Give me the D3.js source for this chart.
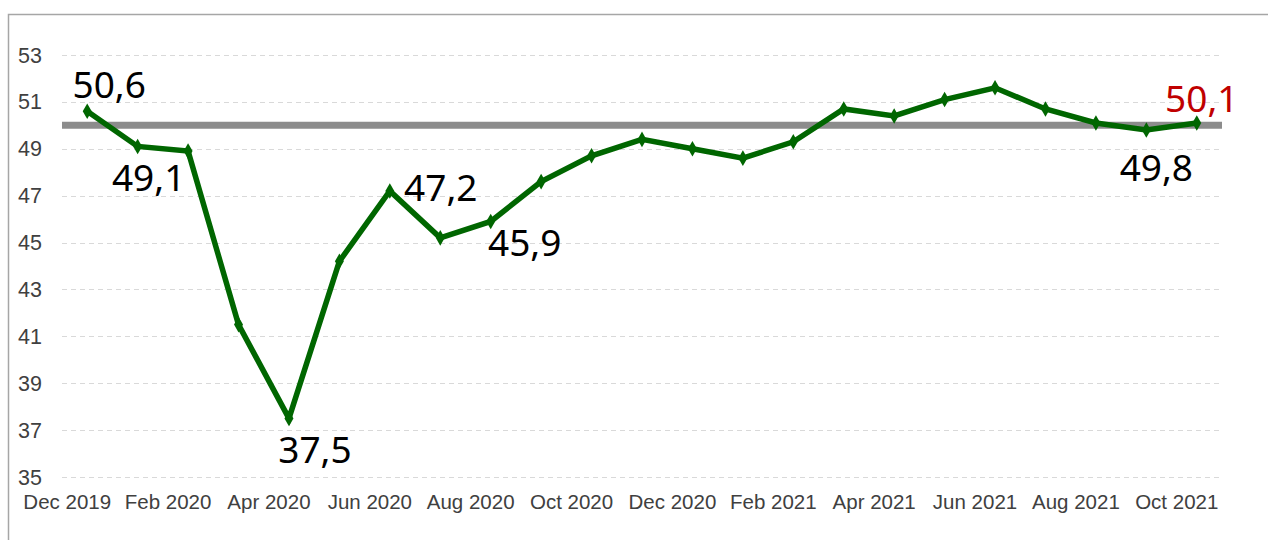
<!DOCTYPE html>
<html>
<head>
<meta charset="utf-8">
<script src="https://cdn.jsdelivr.net/npm/d3@7"></script>
<style>
  body { margin: 0; background: #fff; }
  svg { display: block; }
</style>
</head>
<body>
<svg></svg>
<script>
let width = 1268;
let height = 540;

// monthly values, Dec 2019 .. Oct 2021
let months = ['Dec 2019','Jan 2020','Feb 2020','Mar 2020','Apr 2020','May 2020','Jun 2020',
  'Jul 2020','Aug 2020','Sep 2020','Oct 2020','Nov 2020','Dec 2020','Jan 2021','Feb 2021',
  'Mar 2021','Apr 2021','May 2021','Jun 2021','Jul 2021','Aug 2021','Sep 2021','Oct 2021'];
let values = [50.6, 49.1, 48.9, 41.5, 37.5, 44.2, 47.2, 45.2, 45.9, 47.6, 48.7, 49.4,
  49.0, 48.6, 49.3, 50.7, 50.4, 51.1, 51.6, 50.7, 50.1, 49.8, 50.1];
let yTicks = [35, 37, 39, 41, 43, 45, 47, 49, 51, 53];
let xTickLabels = ['Dec 2019','Feb 2020','Apr 2020','Jun 2020','Aug 2020','Oct 2020',
  'Dec 2020','Feb 2021','Apr 2021','Jun 2021','Aug 2021','Oct 2021'];
let threshold = 50;
let labelled = ['Dec 2019','Jan 2020','Apr 2020','Jun 2020','Aug 2020','Sep 2021','Oct 2021'];

let data = months.map((m, i) => ({month: m, value: values[i]}));

let x = d3.scaleBand()
  .domain(months)
  .range([62, 1222]);

let y = d3.scaleLinear()
  .domain([35, 53])
  .range([477, 55]);

let cx = m => x(m) + x.bandwidth() / 2;

let svg = d3.select('svg')
  .attr('width', width)
  .attr('height', height);

// outer frame (only top and left edges visible)
svg.append('rect')
  .attr('x', 8.5).attr('y', 14.5)
  .attr('width', 1300).attr('height', 600)
  .attr('fill', 'none')
  .attr('stroke', '#a6a6a6')
  .attr('stroke-width', 1.5);

// gridlines
svg.append('g')
  .selectAll('line')
  .data(yTicks)
  .enter()
  .append('line')
    .attr('x1', 62).attr('x2', 1222)
    .attr('y1', d => Math.round(y(d)) + 0.5)
    .attr('y2', d => Math.round(y(d)) + 0.5)
    .attr('stroke', '#d9d9d9')
    .attr('stroke-width', 1)
    .attr('stroke-dasharray', '5,4');

// y labels
svg.append('g')
  .selectAll('text')
  .data(yTicks)
  .enter()
  .append('text')
    .attr('x', 42)
    .attr('y', d => y(d) + 7.5)
    .attr('text-anchor', 'end')
    .attr('font-family', 'Liberation Sans, Arial, sans-serif')
    .attr('font-size', 21.5)
    .attr('fill', '#404040')
    .text(d => d);

// x labels (Excel shifts them a bit left of the points)
svg.append('g')
  .selectAll('text')
  .data(xTickLabels)
  .enter()
  .append('text')
    .attr('x', d => cx(d) - 20)
    .attr('y', 509)
    .attr('text-anchor', 'middle')
    .attr('font-family', 'Liberation Sans, Arial, sans-serif')
    .attr('font-size', 20.5)
    .attr('fill', '#404040')
    .text(d => d);

// threshold line at 50
svg.append('line')
  .attr('x1', 62).attr('x2', 1222)
  .attr('y1', y(threshold)).attr('y2', y(threshold))
  .attr('stroke', '#8c8c8c')
  .attr('stroke-width', 7);

// series line
let line = d3.line()
  .x(d => cx(d.month))
  .y(d => y(d.value));

svg.append('path')
  .datum(data)
  .attr('d', line)
  .attr('fill', 'none')
  .attr('stroke', '#006600')
  .attr('stroke-width', 5.5)
  .attr('stroke-linejoin', 'miter');

// diamond markers
svg.append('g')
  .selectAll('path')
  .data(data)
  .enter()
  .append('path')
    .attr('d', d3.symbol().type(d3.symbolDiamond).size(70))
    .attr('transform', d => `translate(${cx(d.month)}, ${y(d.value)})`)
    .attr('fill', '#006600');

// data labels, placed by hand like in the original
let placement = {
  'Dec 2019': {dx: 22, dy: -13},
  'Jan 2020': {dx: 11, dy: 45},
  'Apr 2020': {dx: 26, dy: 45},
  'Jun 2020': {dx: 51, dy: 10},
  'Aug 2020': {dx: 34, dy: 35},
  'Sep 2021': {dx: 10, dy: 51},
  'Oct 2021': {dx: 5, dy: -11}
};

svg.append('g')
  .selectAll('text')
  .data(data.filter(d => labelled.includes(d.month)))
  .enter()
  .append('text')
    .attr('x', d => cx(d.month) + placement[d.month].dx)
    .attr('y', d => y(d.value) + placement[d.month].dy)
    .attr('text-anchor', 'middle')
    .attr('font-family', 'Noto Sans, Open Sans, sans-serif')
    .attr('font-size', 37)
    .attr('fill', d => d.month === 'Oct 2021' ? '#c00000' : '#000')
    .text(d => d3.format('.1f')(d.value).replace('.', ','));
</script>
</body>
</html>
